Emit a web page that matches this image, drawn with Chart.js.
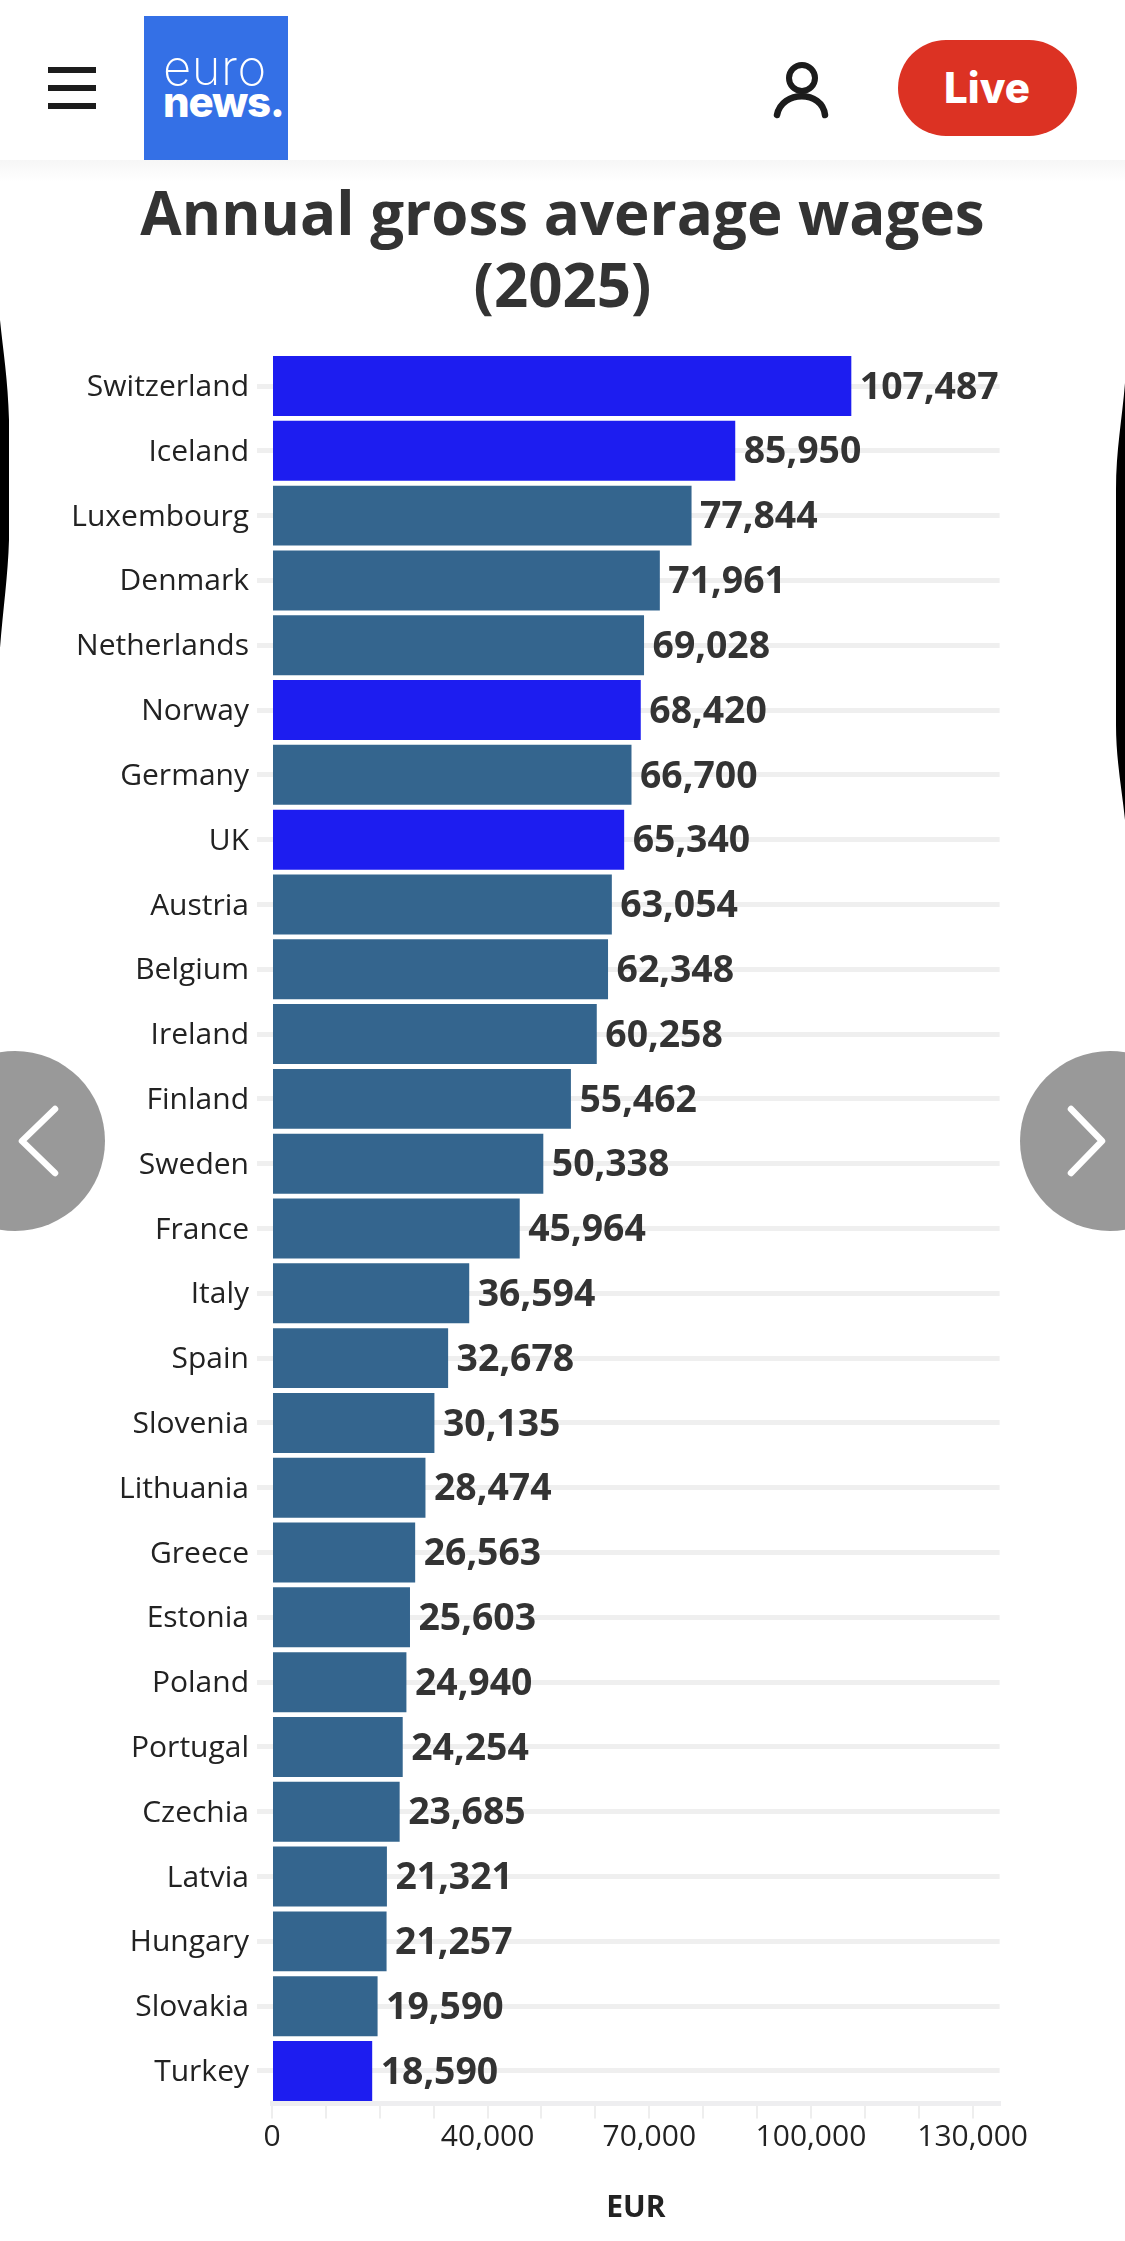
<!DOCTYPE html>
<html>
<head>
<meta charset="utf-8">
<title>Annual gross average wages (2025)</title>
<script src="https://cdn.jsdelivr.net/npm/chart.js@4"></script>
<style>
html,body{margin:0;padding:0;background:#fff}
#page{position:relative;width:1125px;height:2241px;overflow:hidden}
#chart{position:absolute;left:0;top:0}
#chrome{position:absolute;left:0;top:0;pointer-events:none}
</style>
</head>
<body>
<div id="page">
<canvas id="chart" width="1125" height="2241"></canvas>
<svg id="chrome" width="1125" height="2241" viewBox="0 0 1125 2241">
  <defs><linearGradient id="hs" x1="0" y1="0" x2="0" y2="1"><stop offset="0" stop-color="#f6f6f6"/><stop offset="1" stop-color="#fff"/></linearGradient></defs>
  <rect x="0" y="0" width="1125" height="160" fill="#fff"/>
  <rect x="0" y="160" width="1125" height="22" fill="url(#hs)"/>
  <!-- menu -->
  <rect x="48" y="67" width="48" height="6" fill="#1c1c1c"/>
  <rect x="48" y="85" width="48" height="6" fill="#1c1c1c"/>
  <rect x="48" y="103" width="48" height="6" fill="#1c1c1c"/>
  <!-- logo -->
  <rect x="144" y="16" width="144" height="144" fill="#3470e6"/>
  <text x="163" y="85" font-family="Inter" font-weight="200" font-size="49" letter-spacing="0.5" fill="#fff">euro</text>
  <text x="163" y="117" font-family="Inter" font-weight="800" font-size="42" letter-spacing="-1.2" fill="#fff">news.</text>
  <!-- user -->
  <circle cx="802" cy="78" r="13" fill="none" stroke="#1c1c1c" stroke-width="6"/>
  <path d="M777 115 C782 90 822 90 825 115" fill="none" stroke="#1c1c1c" stroke-width="6.5" stroke-linecap="round"/>
  <!-- live -->
  <rect x="898" y="40" width="179" height="96" rx="48" fill="#dc3223"/>
  <text x="987" y="103" text-anchor="middle" font-family="Inter" font-weight="800" font-size="42" fill="#fff">Live</text>
  <!-- slider arrows -->
  <circle cx="15" cy="1141" r="90" fill="#999"/>
  <path d="M55 1109 L22 1141 L55 1173" fill="none" stroke="#fff" stroke-width="6.5" stroke-linecap="round" stroke-linejoin="round"/>
  <circle cx="1110" cy="1141" r="90" fill="#999"/>
  <path d="M1071 1109 L1102 1141 L1071 1173" fill="none" stroke="#fff" stroke-width="6.5" stroke-linecap="round" stroke-linejoin="round"/>
  <!-- black page edges -->
  <path d="M0 320 C3 350 8 380 9 420 L9 540 C8 575 3 610 0 648 Z" fill="#000"/>
  <path d="M1125 383 C1122 420 1116 450 1116 490 L1116 725 C1116 760 1122 790 1125 820 Z" fill="#000"/>
</svg>
</div>
<script>
// Annual gross average wages (2025), EUR
const countries=['Switzerland','Iceland','Luxembourg','Denmark','Netherlands','Norway','Germany','UK','Austria','Belgium','Ireland','Finland','Sweden','France','Italy','Spain','Slovenia','Lithuania','Greece','Estonia','Poland','Portugal','Czechia','Latvia','Hungary','Slovakia','Turkey'];
const wages=[107487,85950,77844,71961,69028,68420,66700,65340,63054,62348,60258,55462,50338,45964,36594,32678,30135,28474,26563,25603,24940,24254,23685,21321,21257,19590,18590];
const nonEU=['Switzerland','Iceland','Norway','UK','Turkey'];
const shownTicks=[0,40000,70000,100000,130000];

const FONT='"Open Sans"';
const fmt=v=>v.toLocaleString('en-US');

// value label right of each bar
const barValues={id:'barValues',
  afterDatasetsDraw(chart){
    const ctx=chart.ctx,meta=chart.getDatasetMeta(0);
    ctx.save();ctx.font='700 37.4px '+FONT;ctx.fillStyle='#333';ctx.textAlign='left';ctx.textBaseline='middle';
    meta.data.forEach((b,i)=>ctx.fillText(fmt(wages[i]),b.x+8.5,b.y+2));
    ctx.restore()}
};

new Chart(document.getElementById('chart'),{
  type:'bar',
  data:{labels:countries,datasets:[{
    data:wages,
    backgroundColor:countries.map(c=>nonEU.includes(c)?'rgba(24,24,240,0.98)':'rgba(48,98,140,0.98)'),
    barPercentage:.925,categoryPercentage:1,borderWidth:0
  }]},
  plugins:[barValues],
  options:{
    indexAxis:'y',responsive:false,animation:false,devicePixelRatio:1,
    layout:{padding:0},
    plugins:{
      legend:{display:false},tooltip:{enabled:false},
      title:{display:true,text:['Annual gross average wages','(2025)'],color:'#333',
        font:{family:FONT,size:60,weight:'700',lineHeight:1.2},padding:{top:182,bottom:27.6}}
    },
    scales:{
      x:{
        max:135000,beginAtZero:true,
        afterFit(s){s.height=137.6},
        border:{display:true,color:'#eeeef0',width:5},
        grid:{drawOnChartArea:false,drawTicks:true,tickLength:15,color:'#eeeeee',lineWidth:2},
        ticks:{stepSize:10000,includeBounds:false,autoSkip:false,maxRotation:0,padding:1,color:'#222',
          font:{family:FONT,size:30},callback:v=>shownTicks.includes(v)?fmt(v):''},
        title:{display:true,text:'EUR',color:'#222',font:{family:FONT,size:30,weight:'700'},padding:{top:0,bottom:15}}
      },
      y:{
        afterFit(s){s.width=272},
        border:{display:false},
        grid:{offset:false,drawTicks:true,tickLength:15,color:'#efefef',lineWidth:5},
        ticks:{autoSkip:false,padding:8,labelOffset:1.5,color:'#222',font:{family:FONT,size:30}}
      },
      // empty right axis: keeps the right margin while the title stays centred on the page
      rightGap:{
        type:'linear',axis:'y',position:'right',
        afterFit(s){s.width=125.4},
        border:{display:false},grid:{display:false},ticks:{display:false}
      }
    }
  }
});
</script>
</body>
</html>
